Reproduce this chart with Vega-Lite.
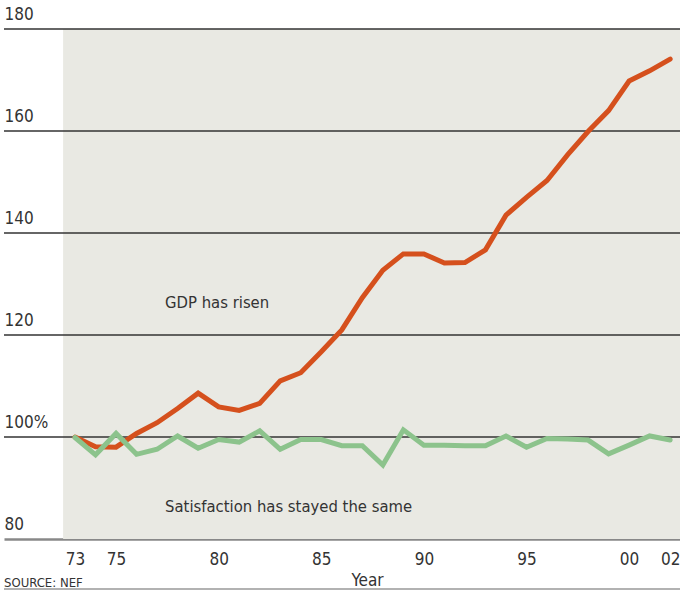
{
  "$schema": "https://vega.github.io/schema/vega-lite/v6.json",
  "width": 676,
  "height": 510,
  "autosize": {"type": "none"},
  "padding": {"left": 4, "top": 29, "right": 0, "bottom": 52},
  "background": "white",
  "config": {
    "view": {"stroke": null},
    "font": "Liberation Sans Narrow, DejaVu Sans Condensed, sans-serif"
  },
  "title": {
    "text": "SOURCE: NEF",
    "orient": "bottom",
    "anchor": "start",
    "frame": "group",
    "fontSize": 13,
    "fontWeight": "normal",
    "color": "#333",
    "baseline": "alphabetic",
    "offset": -3
  },
  "datasets": {
    "series": [
      {"year": 1973, "series": "GDP", "value": 100.0},
      {"year": 1974, "series": "GDP", "value": 98.1},
      {"year": 1975, "series": "GDP", "value": 98.0},
      {"year": 1976, "series": "GDP", "value": 100.7},
      {"year": 1977, "series": "GDP", "value": 102.8},
      {"year": 1978, "series": "GDP", "value": 105.6},
      {"year": 1979, "series": "GDP", "value": 108.6},
      {"year": 1980, "series": "GDP", "value": 105.9},
      {"year": 1981, "series": "GDP", "value": 105.2},
      {"year": 1982, "series": "GDP", "value": 106.6},
      {"year": 1983, "series": "GDP", "value": 111.0},
      {"year": 1984, "series": "GDP", "value": 112.6},
      {"year": 1985, "series": "GDP", "value": 116.7},
      {"year": 1986, "series": "GDP", "value": 121.0},
      {"year": 1987, "series": "GDP", "value": 127.3},
      {"year": 1988, "series": "GDP", "value": 132.7},
      {"year": 1989, "series": "GDP", "value": 135.9},
      {"year": 1990, "series": "GDP", "value": 135.9},
      {"year": 1991, "series": "GDP", "value": 134.1},
      {"year": 1992, "series": "GDP", "value": 134.2},
      {"year": 1993, "series": "GDP", "value": 136.7},
      {"year": 1994, "series": "GDP", "value": 143.5},
      {"year": 1995, "series": "GDP", "value": 147.0},
      {"year": 1996, "series": "GDP", "value": 150.3},
      {"year": 1997, "series": "GDP", "value": 155.3},
      {"year": 1998, "series": "GDP", "value": 159.9},
      {"year": 1999, "series": "GDP", "value": 164.0},
      {"year": 2000, "series": "GDP", "value": 169.8},
      {"year": 2001, "series": "GDP", "value": 171.8},
      {"year": 2002, "series": "GDP", "value": 174.1},
      {"year": 1973, "series": "Satisfaction", "value": 99.9},
      {"year": 1974, "series": "Satisfaction", "value": 96.5},
      {"year": 1975, "series": "Satisfaction", "value": 100.7},
      {"year": 1976, "series": "Satisfaction", "value": 96.6},
      {"year": 1977, "series": "Satisfaction", "value": 97.6},
      {"year": 1978, "series": "Satisfaction", "value": 100.2},
      {"year": 1979, "series": "Satisfaction", "value": 97.8},
      {"year": 1980, "series": "Satisfaction", "value": 99.5},
      {"year": 1981, "series": "Satisfaction", "value": 99.0},
      {"year": 1982, "series": "Satisfaction", "value": 101.2},
      {"year": 1983, "series": "Satisfaction", "value": 97.6},
      {"year": 1984, "series": "Satisfaction", "value": 99.5},
      {"year": 1985, "series": "Satisfaction", "value": 99.5},
      {"year": 1986, "series": "Satisfaction", "value": 98.3},
      {"year": 1987, "series": "Satisfaction", "value": 98.3},
      {"year": 1988, "series": "Satisfaction", "value": 94.5},
      {"year": 1989, "series": "Satisfaction", "value": 101.4},
      {"year": 1990, "series": "Satisfaction", "value": 98.4},
      {"year": 1991, "series": "Satisfaction", "value": 98.4},
      {"year": 1992, "series": "Satisfaction", "value": 98.3},
      {"year": 1993, "series": "Satisfaction", "value": 98.3},
      {"year": 1994, "series": "Satisfaction", "value": 100.2},
      {"year": 1995, "series": "Satisfaction", "value": 98.0},
      {"year": 1996, "series": "Satisfaction", "value": 99.7},
      {"year": 1997, "series": "Satisfaction", "value": 99.6},
      {"year": 1998, "series": "Satisfaction", "value": 99.4},
      {"year": 1999, "series": "Satisfaction", "value": 96.7},
      {"year": 2000, "series": "Satisfaction", "value": 98.4},
      {"year": 2001, "series": "Satisfaction", "value": 100.2},
      {"year": 2002, "series": "Satisfaction", "value": 99.4}
    ],
    "grid": [{"v": 100}, {"v": 120}, {"v": 140}, {"v": 160}, {"v": 180}],
    "labels": [
      {"label": "GDP has risen", "year": 1977.39, "value": 125.3},
      {"label": "Satisfaction has stayed the same", "year": 1977.39, "value": 85.35}
    ]
  },
  "layer": [
    {
      "data": {"values": [{}]},
      "mark": {"type": "rect", "color": "#e9e9e3"},
      "encoding": {
        "x": {"datum": 1972.42, "type": "quantitative", "scale": {"domain": [1969.54, 2002.48], "nice": false, "zero": false},
          "axis": {
            "values": [1973, 1975, 1980, 1985, 1990, 1995, 2000, 2002],
            "labelExpr": "substring(toString(datum.value), 2)",
            "grid": false, "ticks": false, "domain": true,
            "domainColor": "#888", "domainWidth": 2.5,
            "labelFontSize": 17, "labelColor": "#333", "labelPadding": 25,
            "labelBaseline": "alphabetic", "labelFlush": false,
            "title": "Year", "titleFontSize": 17, "titleFontWeight": "normal",
            "titleColor": "#333", "titleX": 363, "titleY": 46,
            "titleBaseline": "alphabetic", "titleAnchor": null, "titleAlign": "center"
          }
        },
        "x2": {"datum": 2002.48},
        "y": {"datum": 80, "type": "quantitative", "scale": {"domain": [80, 180], "nice": false, "zero": false},
          "axis": {
            "values": [80, 100, 120, 140, 160, 180],
            "labelExpr": "datum.value == 100 ? '100%' : datum.label",
            "grid": false, "ticks": false, "domain": false,
            "labelAlign": "left", "labelBaseline": "alphabetic",
            "labelOffset": -10, "labelPadding": 0,
            "labelFontSize": 17, "labelColor": "#333",
            "title": null
          }
        },
        "y2": {"datum": 180}
      }
    },
    {
      "data": {"name": "grid"},
      "mark": {"type": "rule", "color": "#333", "strokeWidth": 1.5},
      "encoding": {"y": {"field": "v", "type": "quantitative"}}
    },
    {
      "data": {"values": [{}]},
      "mark": {"type": "rule", "color": "#999", "strokeWidth": 1.5},
      "encoding": {"y": {"datum": 70.2, "type": "quantitative"}}
    },
    {
      "data": {"name": "series"},
      "mark": {"type": "line", "strokeWidth": 5, "strokeJoin": "miter", "strokeCap": "round"},
      "encoding": {
        "x": {"field": "year", "type": "quantitative"},
        "y": {"field": "value", "type": "quantitative"},
        "color": {"field": "series", "type": "nominal",
          "scale": {"domain": ["GDP", "Satisfaction"], "range": ["#d5501d", "#8cc38c"]},
          "legend": null}
      }
    },
    {
      "data": {"name": "labels"},
      "mark": {"type": "text", "align": "left", "baseline": "alphabetic", "fontSize": 16.5, "color": "#333"},
      "encoding": {
        "x": {"field": "year", "type": "quantitative"},
        "y": {"field": "value", "type": "quantitative"},
        "text": {"field": "label"}
      }
    }
  ]
}
